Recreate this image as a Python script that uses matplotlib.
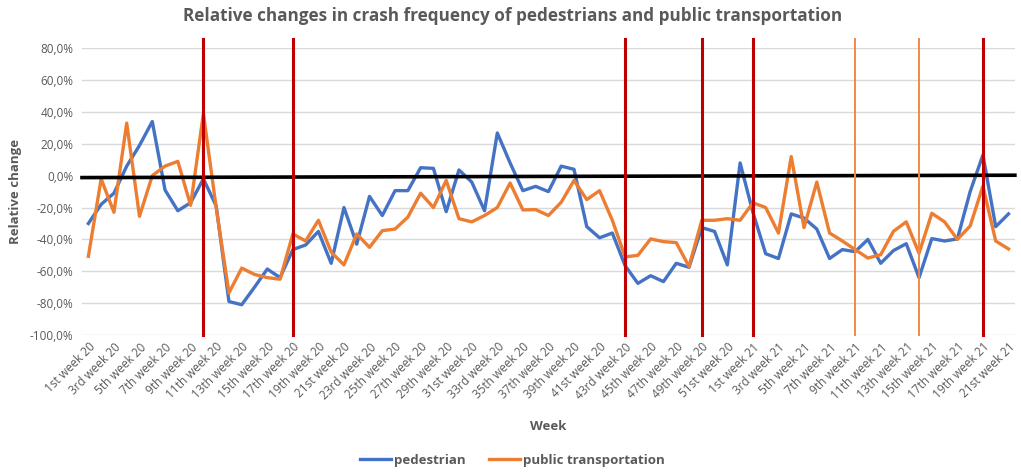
import matplotlib
matplotlib.use("Agg")
import matplotlib.pyplot as plt
from matplotlib.ticker import FuncFormatter


def ordinal(n):
    if 10 <= n % 100 <= 20:
        suf = "th"
    else:
        suf = {1: "st", 2: "nd", 3: "rd"}.get(n % 10, "th")
    return f"{n}{suf}"


weeks = [f"{ordinal(w)} week 20" for w in range(1, 53)] + \
        [f"{ordinal(w)} week 21" for w in range(1, 22)]

pedestrian = [
    -30, -18, -11, 6, 19, 34, -9, -22, -17, -2,
    -19, -79, -81, -70, -58.6, -64, -46.4, -43.5, -35, -55,
    -20, -43, -13, -25, -9.4, -9.4, 5, 4.6, -22.6, 3.6,
    -4, -22, 26.8, 8, -9.4, -6.7, -10, 6, 4, -32,
    -39, -36, -56.5, -67.6, -62.8, -66.5, -55, -57.5, -32.6, -35,
    -56, 8, -23, -49, -52, -24, -26.6, -33.5, -52, -46.4,
    -47.7, -40, -55, -47, -42.7, -64, -39.5, -41, -39.7, -10,
    13, -32, -24,
]

public_transport = [
    -50.6, -2, -23, 33, -25.5, 0, 6, 9, -18.6, 39,
    -20, -73.6, -58, -62, -64, -65, -36.6, -41, -28, -48,
    -56, -36.6, -45, -34.5, -33.5, -26, -11, -20, -3, -27,
    -29, -25, -20, -4.6, -21.5, -21.3, -25, -16.7, -3, -15,
    -9.4, -28, -51, -50, -39.7, -41.4, -42, -57, -28, -28,
    -27, -28, -17, -20, -36, 12, -32.6, -4, -36, -41,
    -46.4, -51.7, -49.6, -34.9, -29, -48.7, -23.6, -29, -40, -31.6,
    -6.5, -41, -46,
]

red_marker_weeks = ["10th week 20", "17th week 20", "43rd week 20",
                    "49th week 20", "1st week 21", "19th week 21"]
orange_marker_weeks = ["9th week 21", "14th week 21"]

GRAY = "#595959"
plt.rcParams["font.family"] = ["Open Sans", "DejaVu Sans"]

fig = plt.figure(figsize=(10.21, 4.73), dpi=100)
ax = fig.add_axes([0.0803, 0.2918, 0.9137, 0.6062])

x = list(range(len(weeks)))
ax.plot(x, pedestrian, color="#4472C4", lw=2.4, label="pedestrian",
        solid_joinstyle="round", zorder=3)
ax.plot(x, public_transport, color="#ED7D31", lw=2.4,
        label="public transportation", solid_joinstyle="round", zorder=3)

ax.set_xlim(-0.5, len(weeks) - 0.5)
ax.set_ylim(-100, 80)
ax.set_yticks(range(-100, 81, 20))
ax.yaxis.set_major_formatter(FuncFormatter(lambda v, p: f"{v:.1f}%".replace(".", ",")))
ax.grid(axis="y", color="#D9D9D9", lw=1)
ax.set_axisbelow(True)
for s in ax.spines.values():
    s.set_visible(False)
ax.tick_params(length=0, labelcolor=GRAY, labelsize=8.5)
ax.tick_params(axis="y", pad=6)

ax.set_xticks(x[::2])
ax.set_xticklabels(weeks[::2], rotation=45, ha="right", rotation_mode="anchor",
                   fontsize=8.5, color=GRAY)
ax.tick_params(axis="x", pad=4)

# reference shapes
for w in red_marker_weeks:
    i = weeks.index(w)
    ax.plot([i, i], [-100, 86], color="#C00000", lw=2.2, clip_on=False, zorder=5)
for w in orange_marker_weeks:
    i = weeks.index(w)
    ax.plot([i, i], [-100, 86], color="#F08A45", lw=1.4, clip_on=False, zorder=5)
ax.plot([-0.5, len(weeks) - 0.5], [-1.2, 0.3], color="black", lw=2.6,
        zorder=4, clip_on=False)

ax.set_xlabel("Week", color=GRAY, fontsize=9.5, fontweight="bold", labelpad=13)
ax.set_ylabel("Relative change", color=GRAY, fontsize=9.5, fontweight="bold", labelpad=6)

fig.suptitle("Relative changes in crash frequency of pedestrians and public transportation",
             x=0.502, y=0.985, fontsize=12.3, fontweight="bold", color=GRAY)

leg = fig.legend(loc="lower center", bbox_to_anchor=(0.502, -0.012), ncol=2, frameon=False,
                 fontsize=9.5, handlelength=2.35, handletextpad=0.2, columnspacing=1.8)
for t in leg.get_texts():
    t.set_color(GRAY)
    t.set_fontweight("bold")

fig.savefig("out.png", dpi=100)
